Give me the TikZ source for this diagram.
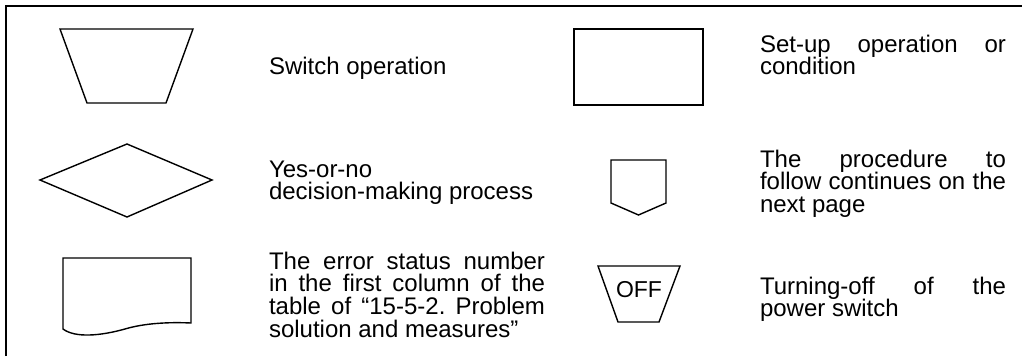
\documentclass[tikz,border=0pt]{standalone}
\usepackage{fontspec}
\setmainfont{Liberation Sans}
\frenchspacing
\newcommand{\lfs}{\fontsize{24pt}{22.7pt}\selectfont\frenchspacing}
\newcommand{\J}[1]{\makebox[\linewidth][s]{#1}}
\begin{document}
\begin{tikzpicture}[x=1pt,y=-1pt,
  shp/.style={draw, line width=1.4pt, line join=miter},
  frm/.style={draw, line width=2pt, line join=miter},
  lbl/.style={anchor=base west, inner sep=0pt, outer sep=0pt}]
\useasboundingbox (0,0) rectangle (1022,356);
% frame
\coordinate (fa) at (6,356);
\coordinate (fb) at (6,6.3);
\coordinate (fc) at (1022,6.3);
\draw[frm] (fa) -- (fb) -- (fc);
% symbols
\draw[shp] (60,29) -- (193,29) -- (166,103) -- (87,103) -- cycle;
\draw[shp] (127,144) -- (212,180) -- (127,217) -- (40,180) -- cycle;
\draw[shp] (63,258) -- (191,258) -- (191,323)
  .. controls (170,322) and (145,323) .. (125,329)
  .. controls (100,336) and (75,338) .. (63,329) -- cycle;
\draw[shp] (574,29) rectangle (703,105);
\draw[shp] (611,160) -- (666,160) -- (666,203) -- (638.5,215) -- (611,203) -- cycle;
\draw[shp] (598,266) -- (680,266) -- (659,322) -- (618,322) -- cycle;
\node[inner sep=0pt, anchor=base, font=\fontsize{23pt}{23pt}\selectfont] (off) at (639,297) {OFF};
% texts
\node[lbl] (t1) at (269,74) {\lfs Switch operation};
\node[lbl] (t2) at (269,177) {\parbox[t]{276pt}{\lfs Yes-or-no\\decision-making process}};
\node[lbl] (t3) at (269,269) {\parbox[t]{276pt}{\lfs\J{The error status number}\\\J{in the first column of the}\\\J{table of “15-5-2. Problem}\\solution and measures”}};
\node[lbl] (t4) at (760,52) {\parbox[t]{246pt}{\lfs\J{Set-up operation or}\\condition}};
\node[lbl] (t5) at (760,167) {\parbox[t]{246pt}{\lfs\J{The procedure to}\\\J{follow continues on the}\\next page}};
\node[lbl] (t6) at (760,294) {\parbox[t]{246pt}{\lfs\J{Turning-off of the}\\power switch}};
\end{tikzpicture}
\end{document}
